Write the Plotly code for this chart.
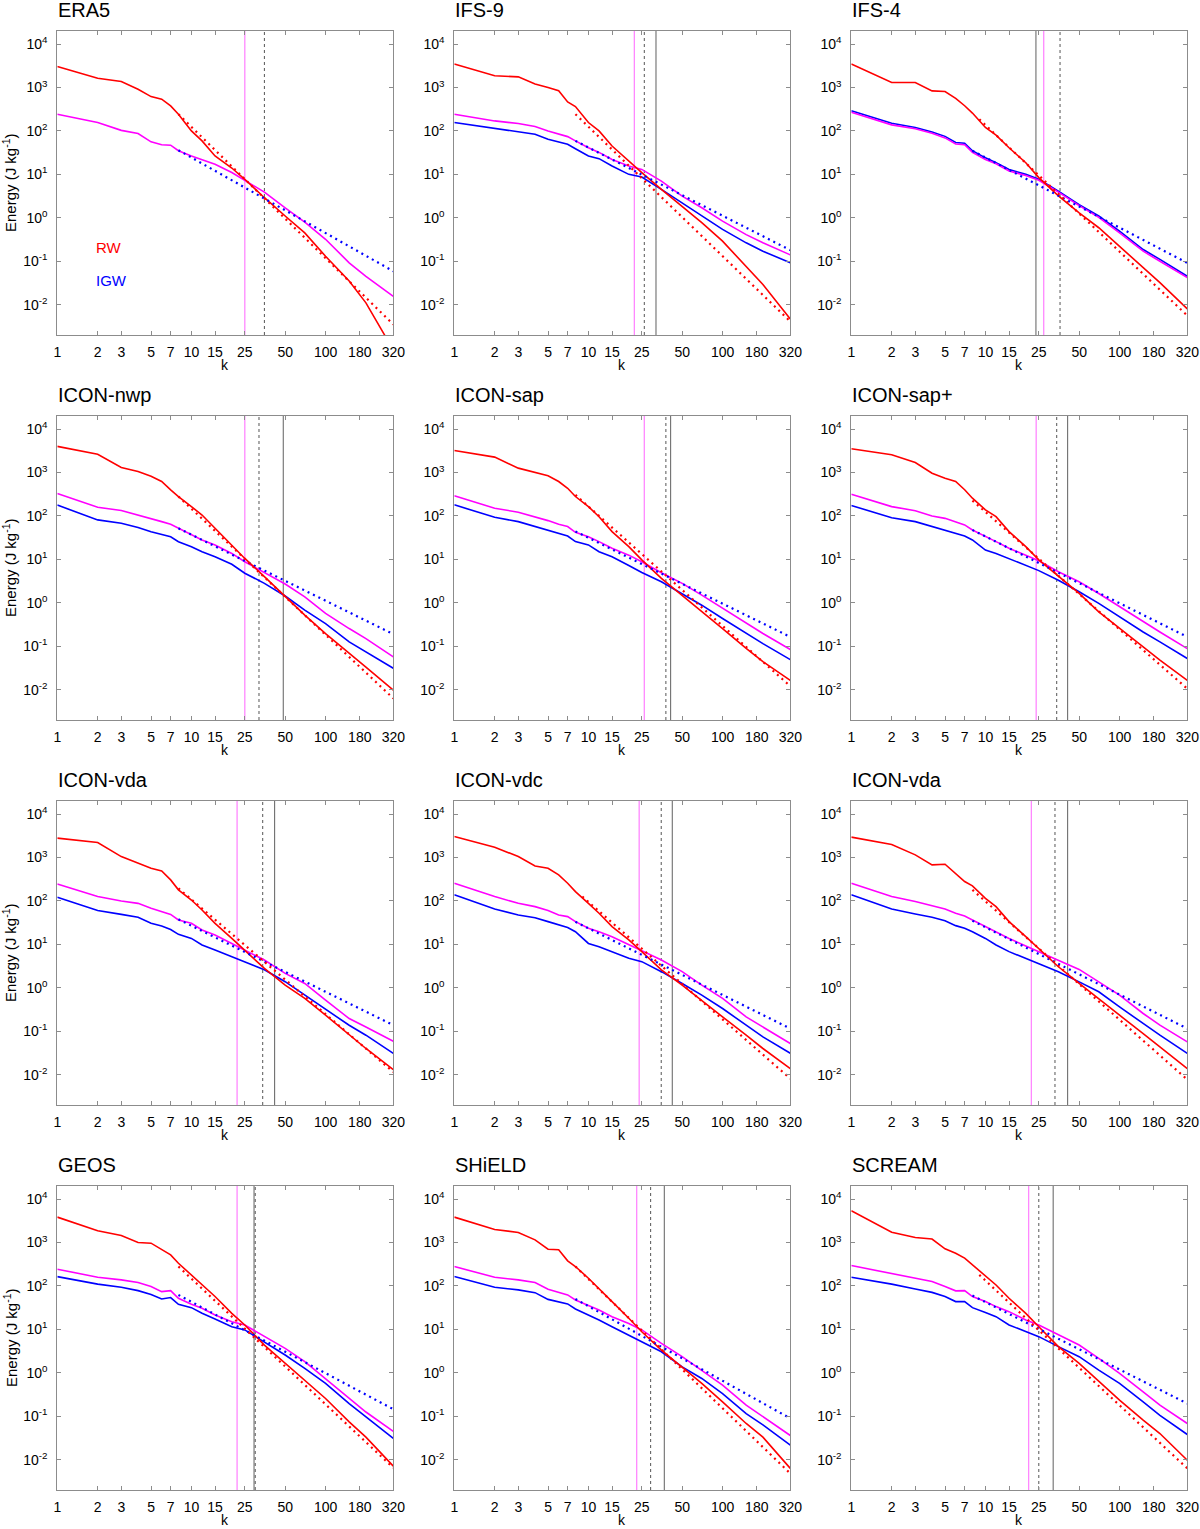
import math
import plotly.graph_objects as go

K = [1, 2, 3, 4, 5, 6, 7, 8, 10, 12, 15, 20, 25, 35, 50, 70, 100, 150, 200, 320]

# energy (J/kg): RW (red), IGW (blue), magenta curve; fits are [[k0, E0], [k1, E1]]
# vertical lines: [magenta, dotted grey, solid grey] wavenumbers (None = absent)
ERA5_RW = [3055, 1640, 1375, 910, 617, 540, 376, 243, 100, 59, 26.5, 14, 7.7, 2.9, 1.1, 0.45, 0.13, 0.035, 0.011, 0.0009]
ERA5_MAG = [243, 156, 103, 87, 56, 48, 47, 35, 26.5, 21.4, 17, 11, 7.3, 3.9, 1.7, 0.79, 0.32, 0.092, 0.045, 0.0155]
ERA5_IGW = []
ERA5_RW_FIT = [[8, 243], [320, 0.0035]]
ERA5_IGW_FIT = [[8, 36], [320, 0.059]]
ERA5_VL = [25, 35, None]

IFS9_RW = [3470, 1860, 1760, 1200, 1000, 840, 465, 365, 156, 100, 45, 20, 11, 4.5, 1.85, 0.77, 0.29, 0.077, 0.029, 0.0047]
IFS9_MAG = [243, 170, 148, 126, 100, 84, 74, 59, 41, 32, 22, 15.6, 13, 7, 3.16, 1.7, 0.84, 0.41, 0.265, 0.14]
IFS9_IGW = [156, 113, 97, 84, 64, 56, 49.5, 39, 26.5, 23, 15.6, 10, 8.7, 4.5, 2.2, 1.1, 0.54, 0.265, 0.17, 0.092]
IFS9_RW_FIT = [[8, 243], [320, 0.0041]]
IFS9_IGW_FIT = [[8, 59], [320, 0.18]]
IFS9_VL = [22, 26.1, 31.9]

IFS4_RW = [3470, 1300, 1300, 835, 810, 560, 380, 258, 120, 80, 41, 18.5, 8.4, 3.2, 1.3, 0.59, 0.22, 0.07, 0.032, 0.008]
IFS4_MAG = [270, 138, 112, 88, 69, 50, 48, 32, 22, 17.5, 12, 9.4, 7.3, 3.9, 1.9, 1.02, 0.45, 0.17, 0.1, 0.042]
IFS4_IGW = [290, 150, 120, 95, 75, 54, 52, 35, 24, 18.6, 13, 10, 7.7, 4.1, 2.0, 1.1, 0.49, 0.186, 0.11, 0.045]
IFS4_RW_FIT = [[9, 186], [320, 0.0056]]
IFS4_IGW_FIT = [[8, 35], [320, 0.091]]
IFS4_VL = [27.2, 36, 23.8]

NWP_RW = [4000, 2640, 1300, 1050, 815, 620, 400, 280, 164, 105, 52, 21.5, 10.5, 4.0, 1.37, 0.52, 0.195, 0.067, 0.033, 0.0097]
NWP_MAG = [330, 158, 133, 105, 88, 74, 64, 52, 38, 28, 21.4, 13.7, 8.8, 4.9, 2.7, 1.37, 0.57, 0.255, 0.15, 0.057]
NWP_IGW = [178, 81, 68, 54, 43, 38, 33, 25.5, 19.6, 15, 11.5, 7.7, 4.8, 2.8, 1.43, 0.68, 0.33, 0.126, 0.074, 0.031]
NWP_RW_FIT = [[8, 280], [320, 0.0063]]
NWP_IGW_FIT = [[8, 52], [320, 0.19]]
NWP_VL = [25, 31.9, 48.4]

SAP_RW = [3220, 2260, 1260, 1000, 840, 620, 434, 280, 164, 96, 43.6, 19.6, 9.7, 3.65, 1.5, 0.62, 0.255, 0.089, 0.044, 0.0164]
SAP_MAG = [290, 150, 122, 97, 78, 64, 57, 42, 33, 25.6, 18, 12.5, 8.8, 4.9, 2.8, 1.5, 0.74, 0.333, 0.196, 0.084]
SAP_IGW = [180, 93, 74, 57, 47.5, 40, 34.5, 25.7, 21.5, 15, 11.5, 7.2, 5.0, 3.05, 1.64, 0.88, 0.435, 0.196, 0.115, 0.049]
SAP_RW_FIT = [[8, 305], [320, 0.012]]
SAP_IGW_FIT = [[8, 44], [320, 0.164]]
SAP_VL = [26.1, 37.8, 41]

SAPP_RW = [3510, 2570, 1700, 965, 740, 620, 400, 256, 138, 96, 43.6, 19.6, 9.7, 4, 1.64, 0.62, 0.255, 0.097, 0.048, 0.0164]
SAPP_MAG = [316, 164, 132, 100, 88, 74, 62, 47.5, 33, 25.6, 18, 12.5, 9.3, 5.2, 3.05, 1.64, 0.81, 0.363, 0.213, 0.088]
SAPP_IGW = [174, 91, 74, 57, 47.5, 40, 34.6, 28, 16.4, 13.7, 10.5, 7.4, 5.5, 3.3, 1.8, 0.97, 0.475, 0.213, 0.126, 0.052]
SAPP_RW_FIT = [[8, 226], [320, 0.0105]]
SAPP_IGW_FIT = [[8, 47.5], [320, 0.164]]
SAPP_VL = [23.9, 34, 41]

VDA_RW = [2790, 2220, 1050, 740, 567, 490, 305, 180, 105, 62, 30.5, 13.7, 7.4, 2.8, 1.15, 0.57, 0.234, 0.081, 0.04, 0.013]
VDA_MAG = [245, 126, 100, 88, 68, 57, 49, 36.5, 30.5, 21.5, 16.4, 10.5, 7.4, 4.35, 2.15, 1.26, 0.52, 0.196, 0.125, 0.059]
VDA_IGW = [122, 60, 49, 42, 30.5, 26.5, 22, 17, 13.7, 9.7, 7.4, 5.2, 4.0, 2.6, 1.38, 0.68, 0.333, 0.137, 0.081, 0.031]
VDA_RW_FIT = [[8, 195], [320, 0.0115]]
VDA_IGW_FIT = [[8, 37.7], [320, 0.138]]
VDA_VL = [21.9, 34, 41.7]

VDC_RW = [3055, 1730, 1050, 640, 567, 398, 256, 164, 88, 52, 25.6, 12.7, 6.8, 2.6, 1.15, 0.52, 0.214, 0.081, 0.04, 0.0138]
VDC_MAG = [256, 126, 88, 74, 60, 47.5, 43.6, 33.4, 23.4, 19.6, 15, 9.7, 7.1, 4.35, 2.35, 1.15, 0.57, 0.214, 0.125, 0.052]
VDC_IGW = [138, 65, 47.5, 41, 33.4, 28, 24.3, 19.6, 10.5, 8.8, 6.8, 4.8, 4.0, 2.35, 1.26, 0.68, 0.333, 0.138, 0.074, 0.031]
VDC_RW_FIT = [[9, 126], [320, 0.0081]]
VDC_IGW_FIT = [[8, 33], [320, 0.115]]
VDC_VL = [23.9, 34.9, 42.2]

VDA2_RW = [2950, 2000, 1150, 675, 700, 436, 280, 222, 115, 74, 33.4, 15, 8.1, 3.05, 1.26, 0.57, 0.234, 0.088, 0.044, 0.0138]
VDA2_MAG = [256, 126, 97, 78, 65, 52, 45, 36.5, 25.6, 19.6, 13.7, 9.2, 6.8, 4.35, 2.65, 1.37, 0.68, 0.256, 0.138, 0.057]
VDA2_IGW = [138, 65, 50, 42, 35, 27, 23.4, 19.6, 13.7, 9.7, 6.8, 4.8, 3.65, 2.35, 1.37, 0.81, 0.363, 0.15, 0.081, 0.031]
VDA2_RW_FIT = [[8, 180], [320, 0.0077]]
VDA2_IGW_FIT = [[8, 35], [320, 0.115]]
VDA2_VL = [22, 33, 41]

GEOS_RW = [3840, 1860, 1450, 1000, 965, 680, 520, 333, 180, 105, 57, 23.4, 12.6, 4.35, 1.64, 0.68, 0.256, 0.074, 0.033, 0.0071]
GEOS_MAG = [243, 158, 138, 120, 97, 74, 78, 52, 37.8, 30.5, 21.5, 15, 12.6, 6.8, 3.65, 1.8, 0.74, 0.256, 0.125, 0.045]
GEOS_IGW = [164, 110, 93, 78, 63.5, 50, 54, 37.8, 31.6, 23.4, 17.4, 11.5, 9.7, 5.2, 2.57, 1.26, 0.57, 0.196, 0.097, 0.031]
GEOS_RW_FIT = [[8, 280], [320, 0.0065]]
GEOS_IGW_FIT = [[8, 62], [320, 0.145]]
GEOS_VL = [21.9, 29.9, 29.3]

SHIELD_RW = [3840, 2000, 1700, 1150, 700, 680, 378, 280, 150, 88, 43.6, 18, 8.8, 3.33, 1.37, 0.57, 0.214, 0.068, 0.033, 0.0063]
SHIELD_MAG = [280, 158, 138, 120, 84, 70, 62, 47.5, 35, 28, 19.6, 13.7, 9.7, 4.75, 2.35, 1.15, 0.52, 0.18, 0.097, 0.036]
SHIELD_IGW = [164, 93, 81, 70, 49, 43.6, 38.5, 29.5, 21.5, 16.4, 11.5, 7.4, 5.2, 3.05, 1.37, 0.74, 0.333, 0.115, 0.063, 0.0215]
SHIELD_RW_FIT = [[8, 280], [320, 0.0048]]
SHIELD_IGW_FIT = [[8, 50], [320, 0.089]]
SHIELD_VL = [22.9, 29.1, 36.8]

SCREAM_RW = [5370, 1730, 1300, 1200, 715, 567, 436, 305, 164, 105, 52, 23.4, 11.5, 4, 1.64, 0.63, 0.234, 0.081, 0.04, 0.0097]
SCREAM_MAG = [295, 196, 150, 126, 97, 77, 78, 57, 43.6, 33.4, 25.6, 16.4, 12.6, 7.4, 4.35, 2.15, 0.97, 0.363, 0.18, 0.068]
SCREAM_IGW = [158, 110, 85, 71, 57, 43.6, 43.6, 31.6, 24.3, 19.6, 12.6, 9.1, 6.8, 4, 2.35, 1.15, 0.57, 0.214, 0.105, 0.038]
SCREAM_RW_FIT = [[9, 180], [320, 0.0063]]
SCREAM_IGW_FIT = [[8, 60], [320, 0.196]]
SCREAM_VL = [21, 25, 32]

X_TICKS = [1, 2, 3, 5, 7, 10, 15, 25, 50, 100, 180, 320]
Y_EXPONENTS = [-2, -1, 0, 1, 2, 3, 4]
Y_MIN, Y_MAX = 0.002, 20000
K_MAX = 320

PANELS = [
    ("ERA5", ERA5_RW, ERA5_MAG, ERA5_IGW, ERA5_RW_FIT, ERA5_IGW_FIT, ERA5_VL),
    ("IFS-9", IFS9_RW, IFS9_MAG, IFS9_IGW, IFS9_RW_FIT, IFS9_IGW_FIT, IFS9_VL),
    ("IFS-4", IFS4_RW, IFS4_MAG, IFS4_IGW, IFS4_RW_FIT, IFS4_IGW_FIT, IFS4_VL),
    ("ICON-nwp", NWP_RW, NWP_MAG, NWP_IGW, NWP_RW_FIT, NWP_IGW_FIT, NWP_VL),
    ("ICON-sap", SAP_RW, SAP_MAG, SAP_IGW, SAP_RW_FIT, SAP_IGW_FIT, SAP_VL),
    ("ICON-sap+", SAPP_RW, SAPP_MAG, SAPP_IGW, SAPP_RW_FIT, SAPP_IGW_FIT, SAPP_VL),
    ("ICON-vda", VDA_RW, VDA_MAG, VDA_IGW, VDA_RW_FIT, VDA_IGW_FIT, VDA_VL),
    ("ICON-vdc", VDC_RW, VDC_MAG, VDC_IGW, VDC_RW_FIT, VDC_IGW_FIT, VDC_VL),
    ("ICON-vda", VDA2_RW, VDA2_MAG, VDA2_IGW, VDA2_RW_FIT, VDA2_IGW_FIT, VDA2_VL),
    ("GEOS", GEOS_RW, GEOS_MAG, GEOS_IGW, GEOS_RW_FIT, GEOS_IGW_FIT, GEOS_VL),
    ("SHiELD", SHIELD_RW, SHIELD_MAG, SHIELD_IGW, SHIELD_RW_FIT, SHIELD_IGW_FIT, SHIELD_VL),
    ("SCREAM", SCREAM_RW, SCREAM_MAG, SCREAM_IGW, SCREAM_RW_FIT, SCREAM_IGW_FIT, SCREAM_VL),
]

# page geometry (pixels)
W, H = 1200, 1529
COL_LEFT = [57.3, 454.3, 851.3]
ROW_TOP = [31, 416, 801, 1186]
PW, PH = 336, 304
FONT = "Liberation Sans, Arial, Helvetica, sans-serif"

RED, BLUE, MAGENTA = "#ff0000", "#0000ff", "#ff00ff"
VL_STYLES = [
    dict(color="#ff88ff", width=1.3),
    dict(color="#555555", width=1, dash="dot"),
    dict(color="#6e6e6e", width=1.1),
]

fig = go.Figure()
annotations = []

for i, (name, rw, mag, igw, rw_fit, igw_fit, vlines) in enumerate(PANELS):
    row, col = divmod(i, 3)
    sfx = "" if i == 0 else str(i + 1)
    xa, ya = "x" + sfx, "y" + sfx

    # vertical reference lines
    for kv, st in zip(vlines, VL_STYLES):
        if kv is None:
            continue
        fig.add_trace(go.Scatter(x=[kv, kv], y=[Y_MIN, Y_MAX], mode="lines", line=st,
                                 xaxis=xa, yaxis=ya, showlegend=False, hoverinfo="skip"))

    if igw:
        fig.add_trace(go.Scatter(x=K, y=igw, mode="lines", line=dict(color=BLUE, width=1.6),
                                 xaxis=xa, yaxis=ya, showlegend=False))
    fig.add_trace(go.Scatter(x=K, y=mag, mode="lines", line=dict(color=MAGENTA, width=1.6),
                             xaxis=xa, yaxis=ya, showlegend=False))
    fig.add_trace(go.Scatter(x=K, y=rw, mode="lines", line=dict(color=RED, width=1.6),
                             xaxis=xa, yaxis=ya, showlegend=False))

    # power-law fits (dotted)
    for fit, c in ((igw_fit, BLUE), (rw_fit, RED)):
        fig.add_trace(go.Scatter(x=[p[0] for p in fit], y=[p[1] for p in fit], mode="lines",
                                 line=dict(color=c, width=2.2, dash="2px,4px"),
                                 xaxis=xa, yaxis=ya, showlegend=False))

    x0 = COL_LEFT[col] / W
    x1 = (COL_LEFT[col] + PW) / W
    y1 = 1 - ROW_TOP[row] / H
    y0 = 1 - (ROW_TOP[row] + PH) / H

    common = dict(showgrid=False, zeroline=False, showline=True, linecolor="#8c8c8c", linewidth=1,
                  mirror="ticks", ticks="inside", ticklen=4, tickcolor="#8c8c8c", automargin=False,
                  tickfont=dict(family=FONT, size=14, color="black"))
    fig.layout["xaxis" + sfx] = dict(
        type="log", range=[0, math.log10(K_MAX)], domain=[x0, x1], anchor=ya,
        tickmode="array", tickvals=X_TICKS, ticktext=[str(t) for t in X_TICKS],
        ticklabelstandoff=4, **common)
    fig.layout["yaxis" + sfx] = dict(
        type="log", range=[math.log10(Y_MIN), math.log10(Y_MAX)], domain=[y0, y1], anchor=xa,
        tickmode="array", tickvals=[10 ** e for e in Y_EXPONENTS],
        ticktext=["10<sup>%d</sup>" % e for e in Y_EXPONENTS],
        ticklabelstandoff=6, **common)

    # panel title
    annotations.append(dict(text=name, xref="paper", yref="paper", x=x0 - 1 / W,
                            y=1 - (ROW_TOP[row] - 21) / H,
                            xanchor="left", yanchor="middle", showarrow=False,
                            font=dict(family=FONT, size=20, color="black")))
    # x title
    annotations.append(dict(text="k", xref="paper", yref="paper", x=(x0 + x1) / 2,
                            y=1 - (ROW_TOP[row] + PH + 30) / H, xanchor="center", yanchor="middle",
                            showarrow=False, font=dict(family=FONT, size=14, color="black")))
    if col == 0:
        annotations.append(dict(text="Energy (J kg<sup>-1</sup>)", xref="paper", yref="paper",
                                x=10 / W, y=(y0 + y1) / 2, xanchor="center", yanchor="middle",
                                textangle=-90, showarrow=False,
                                font=dict(family=FONT, size=15, color="black")))

# RW / IGW labels in the first panel
annotations.append(dict(text="RW", xref="x", yref="y", x=math.log10(1.88), y=math.log10(0.206),
                        xanchor="left", yanchor="middle", showarrow=False,
                        font=dict(family=FONT, size=15, color=RED)))
annotations.append(dict(text="IGW", xref="x", yref="y", x=math.log10(1.88), y=math.log10(0.0357),
                        xanchor="left", yanchor="middle", showarrow=False,
                        font=dict(family=FONT, size=15, color=BLUE)))

fig.update_layout(width=W, height=H, margin=dict(l=0, r=0, t=0, b=0, autoexpand=False),
                  paper_bgcolor="white", plot_bgcolor="white", showlegend=False,
                  annotations=annotations, font=dict(family=FONT))

# drop the default page margin so the figure fills the window exactly
fig.write_html("out.html", config={"displayModeBar": False},
               post_script="document.body.style.margin='0';document.body.style.overflow='hidden';")
